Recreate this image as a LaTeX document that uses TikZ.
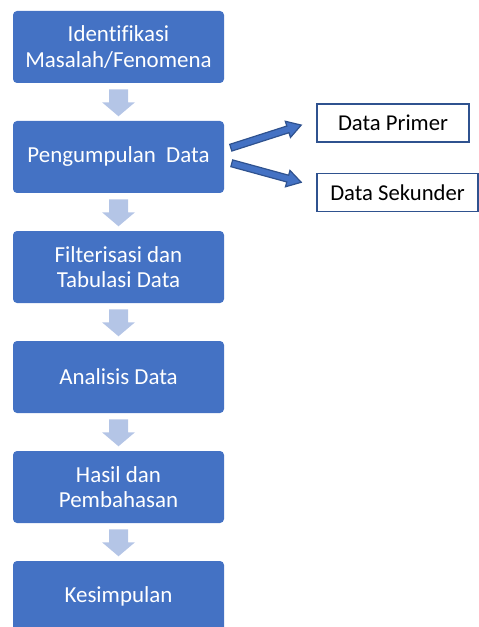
\documentclass[tikz,border=0pt]{standalone}
\usepackage{fontspec}
\setmainfont{Carlito}[Ligatures=NoCommon]
\usetikzlibrary{calc}
\definecolor{boxblue}{HTML}{4472C4}
\definecolor{edgeblue}{HTML}{2F528F}
\definecolor{paleblue}{HTML}{B4C5E6}
\tikzset{
  stepbox/.style={draw=none, fill=boxblue, rounded corners=4*0.75pt,
    minimum width=211*0.75pt, minimum height=72*0.75pt, inner sep=0pt,
    text=white, align=center, font=\fontsize{17.2}{18.9}\selectfont},
  sidebox/.style={draw=edgeblue, line width=1pt, fill=white,
    minimum height=38*0.75pt, inner sep=0pt, text=black,
    font=\fontsize{17}{19}\selectfont},
  % broad downward arrow between steps (origin at the top of the shaft)
  pics/downarrow/.style={code={
    \fill[paleblue] (-9.5,0) -- (9.5,0) -- (9.5,13) -- (16.5,13) -- (0,27)
      -- (-16.5,13) -- (-9.5,13) -- cycle;}},
  % outlined block arrow pointing along +x, #1 = overall length
  pics/sidearrow/.style={code={
    \filldraw[fill=boxblue, draw=edgeblue, line width=0.9pt, line join=miter]
      (0,-3.5) -- (#1-14,-3.5) -- (#1-14,-8.5) -- (#1,0) -- (#1-14,8.5)
      -- (#1-14,3.5) -- (0,3.5) -- cycle;}}
}
\begin{document}
\begin{tikzpicture}[x=0.75pt, y=-0.75pt]
\useasboundingbox (0,0) rectangle (478,627);

\node[stepbox] (s1) at (118.5,47)  {Identifikasi\\Masalah/Fenomena};
\node[stepbox] (s2) at (118.5,157) {Pengumpulan\ \ Data};
\node[stepbox] (s3) at (118.5,267) {Filterisasi dan\\Tabulasi Data};
\node[stepbox] (s4) at (118.5,377) {Analisis Data};
\node[stepbox] (s5) at (118.5,487) {Hasil dan\\Pembahasan};
\node[stepbox] (s6) at (118.5,597) {};
\node[text=white, font=\fontsize{17.2}{18.9}\selectfont] (s6t) at (118.5,596) {Kesimpulan};

\foreach \a/\b in {s1/s2, s2/s3, s3/s4, s4/s5, s5/s6}
  \pic at ($(\a.south)+(0,6)$) {downarrow};

\node[sidebox, minimum width=152*0.75pt] (prim) at (393,123)   {Data Primer};
\node[sidebox, minimum width=161*0.75pt] (sek)  at (397.5,192.5) {Data Sekunder};

\pic[rotate=17.8]  at ($(s2.east)+(6.5,-9.3)$) {sidearrow=74};
\pic[rotate=-15.3] at ($(s2.east)+(7.5,6.3)$)  {sidearrow=72};
\end{tikzpicture}
\end{document}
